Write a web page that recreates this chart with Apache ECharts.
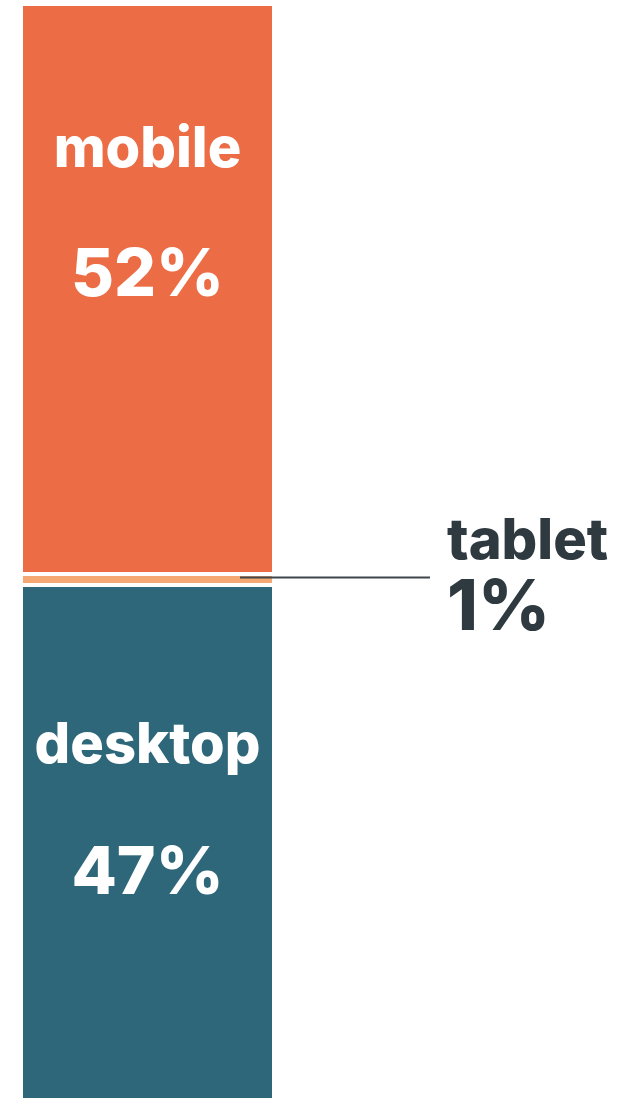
<!DOCTYPE html>
<html>
<head>
<meta charset="utf-8">
<script src="https://cdn.jsdelivr.net/npm/echarts@6/dist/echarts.min.js"></script>
<style>
html,body{margin:0;padding:0;background:#fff;}
#chart{width:631px;height:1102px;}
</style>
</head>
<body>
<div id="chart"></div>
<script>
// data
const categories = ['share'];
const segmentNames = ['mobile', 'tablet', 'desktop'];
const segmentValues = [52, 1, 47];
const segmentColors = ['#EC6D45', '#F5A873', '#2E6779'];

const FONT = 'Inter, "Noto Sans", sans-serif';
const WEIGHT = 800;
const chart = echarts.init(document.getElementById('chart'), null, {renderer: 'canvas'});

function insideLabel(name, val, offsetY, gap) {
  return {
    show: true,
    position: ['50%', offsetY],
    align: 'center',
    verticalAlign: 'top',
    formatter: '{n|' + name + '}\n{v|' + val + '%}',
    rich: {
      n: {fontFamily: FONT, fontWeight: WEIGHT, fontSize: 56, lineHeight: 56, color: '#fff'},
      v: {fontFamily: FONT, fontWeight: WEIGHT, fontSize: 66, lineHeight: gap, color: '#fff'}
    }
  };
}

const series = segmentNames.map((name, i) => ({
  name: name,
  type: 'bar',
  stack: 'total',
  barWidth: '100%',
  data: [segmentValues[i]],
  itemStyle: {color: segmentColors[i], borderColor: '#ffffff', borderWidth: 2},
  label: i === 0 ? insideLabel(name, segmentValues[i], 118, 196)
       : i === 2 ? insideLabel(name, segmentValues[i], 133, 200)
       : {show: false},
  silent: true,
  animation: false
}));

chart.setOption({
  animation: false,
  grid: {left: 21, width: 253, top: 4, height: 1096},
  xAxis: {type: 'category', data: categories, show: false},
  yAxis: {type: 'value', min: 0, max: 100, inverse: true, show: false},
  series: series
});

const tabletMid = segmentValues[0] + segmentValues[1] / 2;
const py = Math.round(chart.convertToPixel({gridIndex: 0}, [0, tabletMid])[1]) - 1.5;
chart.setOption({
  graphic: [
    {type: 'line', shape: {x1: 240, y1: py, x2: 430, y2: py}, style: {stroke: '#3F474C', lineWidth: 2}, z: 10},
    {type: 'text', x: 447, y: py - 35, style: {text: segmentNames[1], font: WEIGHT + ' 56px ' + FONT, fill: '#2E3A40', verticalAlign: 'middle', align: 'left'}},
    {type: 'text', x: 447, y: py + 31, style: {text: segmentValues[1] + '%', font: WEIGHT + ' 70px ' + FONT, fill: '#2E3A40', verticalAlign: 'middle', align: 'left'}}
  ]
});
</script>
</body>
</html>
